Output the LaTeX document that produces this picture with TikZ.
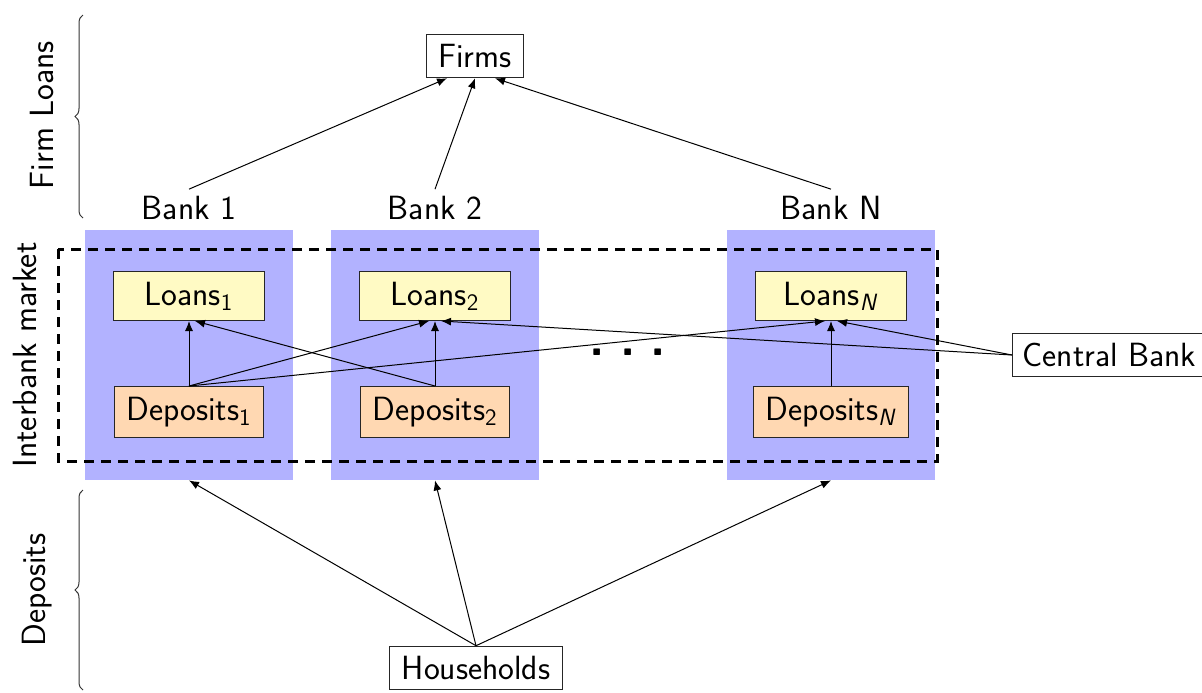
\documentclass[tikz,border=0pt]{standalone}
\usetikzlibrary{decorations.pathreplacing,arrows.meta}
\definecolor{colblue}{RGB}{178,178,255}
\definecolor{loanfill}{RGB}{255,250,196}
\definecolor{depfill}{RGB}{255,216,178}
\begin{document}
\begin{tikzpicture}[x=0.5pt,y=-0.5pt,
  every node/.style={font=\fontsize{16.8}{20}\selectfont\sffamily},
  box/.style={draw=black!85, line width=0.5pt, inner xsep=6pt, inner ysep=5pt},
  loanbox/.style={box, fill=loanfill, minimum width=75.5pt, minimum height=24.5pt},
  depbox/.style={box, fill=depfill, minimum height=25.5pt},
  bankcol/.style={fill=colblue, minimum width=104pt, minimum height=125pt, inner sep=0pt},
  arr/.style={-{Latex[length=5pt,width=4pt]}, line width=0.5pt},
  brc/.style={decorate, decoration={brace, amplitude=4pt}, draw=black!80, line width=0.5pt},
  frame/.style={line width=1.5pt, dash pattern=on 5pt off 3.5pt}
  ]
\path[use as bounding box] (0,0) rectangle (1202,692);
% bank columns
\node[bankcol] (c1) at (189,355) {};
\node[bankcol] (c2) at (435,355) {};
\node[bankcol] (cN) at (831,355) {};
% interbank frame
\draw[frame] (58,249) rectangle (937,461);
% loans and deposits
\node[loanbox] (l1) at (189,296) {Loans\textsubscript{1}};
\node[loanbox] (l2) at (435,296) {Loans\textsubscript{2}};
\node[loanbox] (lN) at (831,296) {Loans\textsubscript{\textit{N}}};
\node[depbox] (d1) at (189,412) {Deposits\textsubscript{1}};
\node[depbox] (d2) at (435,412) {Deposits\textsubscript{2}};
\node[depbox] (dN) at (831,412) {Deposits\textsubscript{\textit{N}}};
% bank labels
\node (b1) at (189,208) {Bank 1};
\node (b2) at (435,208) {Bank 2};
\node (bN) at (831,208) {Bank N};
% outer agents
\node[box] (firms) at (475,56) {Firms};
\node[box] (hh) at (476,668) {Households};
\node[box, anchor=west, inner xsep=5pt] (cb) at (1012,355) {Central Bank};
\node[font=\fontsize{25}{25}\selectfont\sffamily\bfseries] (dots) at (628,352) {.\hspace{7.6pt}.\hspace{7.6pt}.};
% side labels
\node[rotate=90] (fl) at (42,115) {Firm Loans};
\node[rotate=90] (ib) at (25,355) {Interbank market};
\node[rotate=90] (dp) at (37,590) {Deposits};
\draw[brc] (83,218) -- (83,15);
\draw[brc] (83,690) -- (83,490);
% arrows to firms
\draw[arr] (b1.north) -- ([xshift=-14pt]firms.south);
\draw[arr] (b2.north) -- (firms.south);
\draw[arr] (bN.north) -- ([xshift=10pt]firms.south);
% interbank arrows
\draw[arr] (d1.north) -- (l1.south);
\draw[arr] (d1.north) -- ([xshift=-3pt]l2.south);
\draw[arr] (d1.north) -- ([xshift=-3pt]lN.south);
\draw[arr] (d2.north) -- ([xshift=3pt]l1.south);
\draw[arr] (d2.north) -- (l2.south);
\draw[arr] (dN.north) -- (lN.south);
\draw[arr] (cb.west) -- ([xshift=3pt]l2.south);
\draw[arr] (cb.west) -- ([xshift=3pt]lN.south);
% household arrows
\draw[arr] (hh.north) -- (c1.south);
\draw[arr] (hh.north) -- (c2.south);
\draw[arr] (hh.north) -- (cN.south);
\end{tikzpicture}
\end{document}
